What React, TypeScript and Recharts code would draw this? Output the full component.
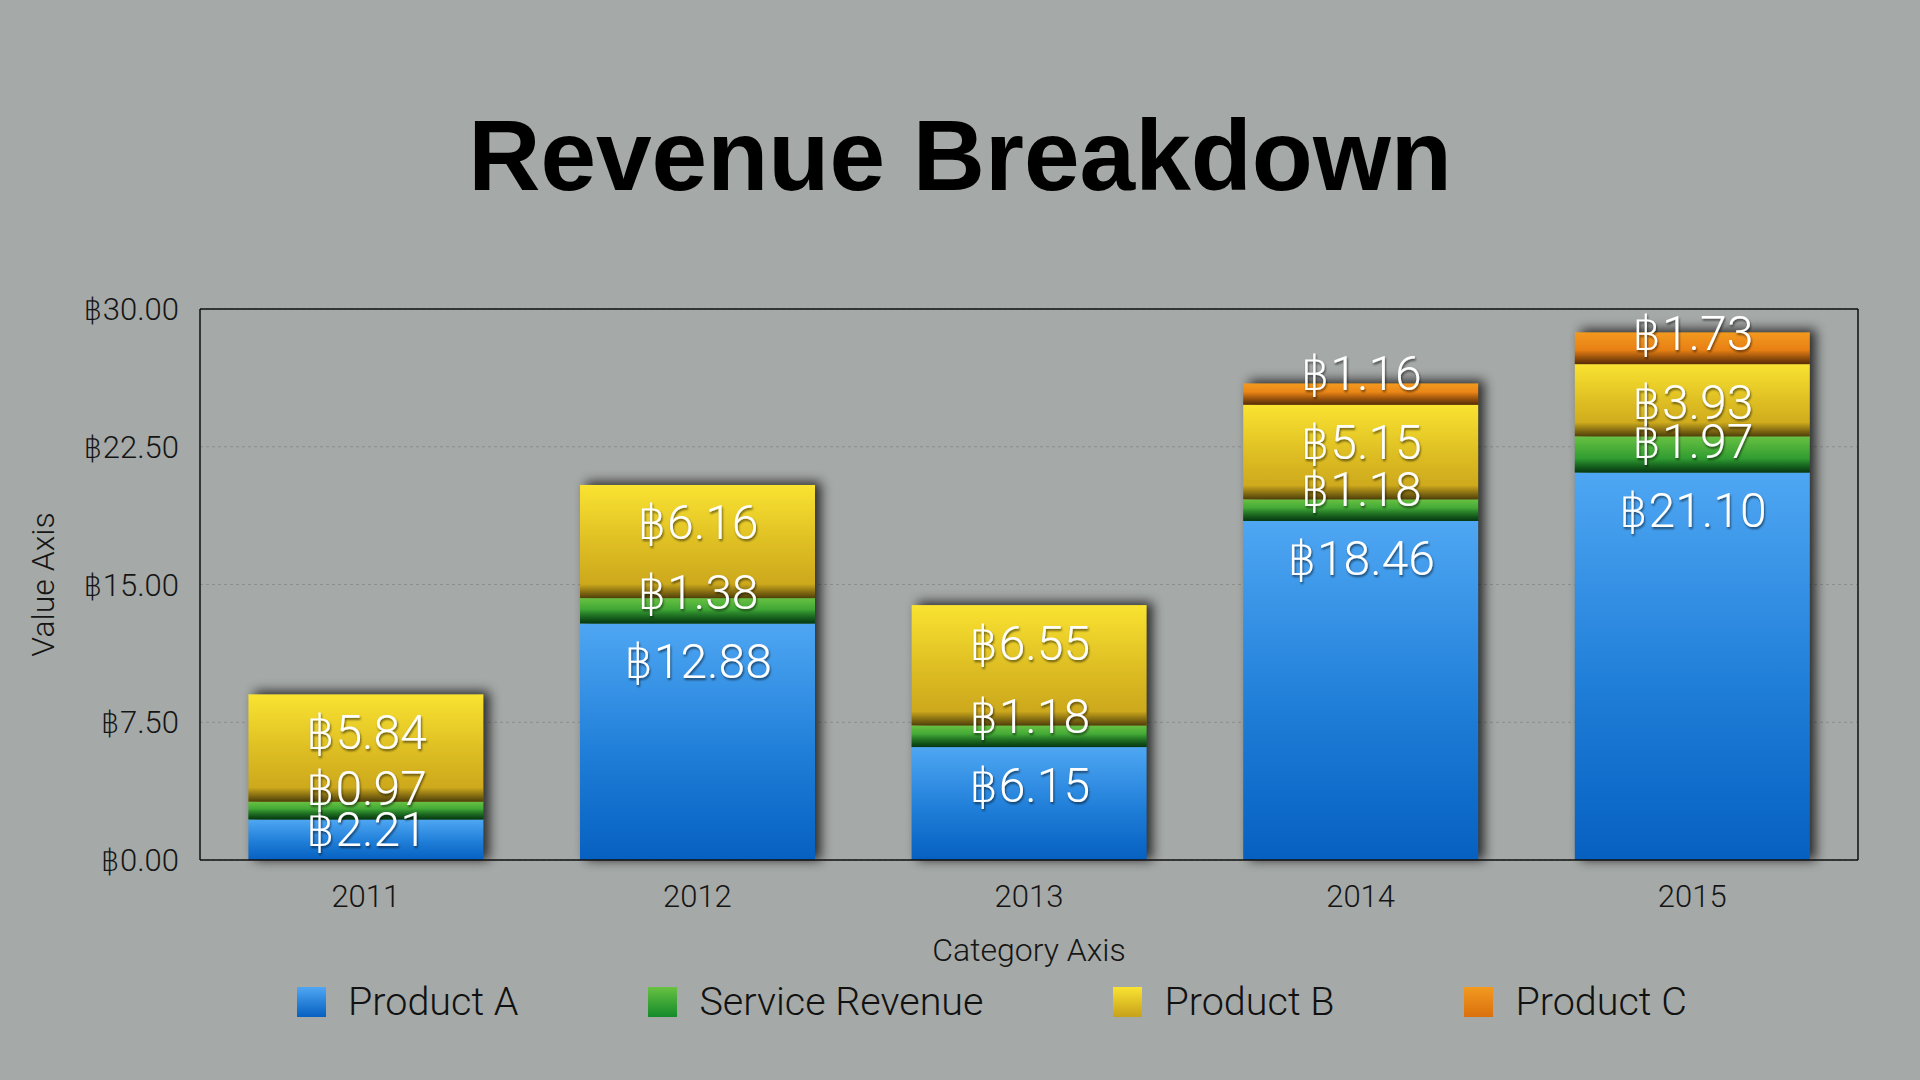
import { BarChart, Bar, XAxis, YAxis, CartesianGrid, LabelList } from "recharts";

// yearly revenue split, in baht
const years = ["2011", "2012", "2013", "2014", "2015"];
const productA = [2.21, 12.88, 6.15, 18.46, 21.1];
const serviceRevenue = [0.97, 1.38, 1.18, 1.18, 1.97];
const productB = [5.84, 6.16, 6.55, 5.15, 3.93];
const productC = [null, null, null, 1.16, 1.73];
const valueTicks = [0, 7.5, 15, 22.5, 30];

const data = years.map((year, i) => ({
    year,
    productA: productA[i],
    serviceRevenue: serviceRevenue[i],
    productB: productB[i],
    productC: productC[i],
}));

const series = [
    {key: "productA", name: "Product A", stops: ["#4fa7f3", "#1f7ed8", "#0660c0"]},
    {key: "serviceRevenue", name: "Service Revenue", stops: ["#68c242", "#36a032", "#138a2a"]},
    {key: "productB", name: "Product B", stops: ["#fae331", "#dcbc22", "#c7a11a"]},
    {key: "productC", name: "Product C", stops: ["#f39a1f", "#e88014", "#d9700e"]},
];
const seriesKeys = series.map((s) => s.key);

const lightFont = "Roboto, 'DejaVu Sans', sans-serif";
const axisText = {fontSize: 31, fill: "#151515", fontFamily: lightFont, fontWeight: 300};
const frame = {stroke: "#111", strokeWidth: 1.5};
const baht = (v: number) => `฿${v.toFixed(2)}`;

const Segment = (props: any) => {
    const {x, y, width, height, payload, seriesKey, first} = props;
    const v = payload?.[seriesKey];
    if (v == null || !height || height <= 0) return null;

    // the first series draws the soft shadow behind the whole stack
    let shadow = null;
    if (first) {
        const perUnit = height / v;
        const total = seriesKeys.reduce((s, k) => s + (payload[k] ?? 0), 0);
        const stackH = total * perUnit;
        shadow = (
            <rect x={x + 6} y={y + height - stackH - 3} width={width} height={stackH + 3}
                  fill="#000" opacity={0.75} filter="url(#stackShadow)"/>
        );
    }
    const band = Math.min(14, height * 0.6);
    return (
        <g>
            {shadow}
            <rect x={x} y={y} width={width} height={height} fill={`url(#grad-${seriesKey})`}/>
            {!first && (
                <rect x={x} y={y + height - band} width={width} height={band} fill="url(#bottomShade)"/>
            )}
        </g>
    );
};

const SegmentLabel = (props: any) => {
    const {x, y, width, height, value} = props;
    if (value == null || !height) return null;
    const cy = Math.min(y + 38, y + height - 31);
    return (
        <text x={x + width / 2} y={cy} textAnchor="middle" dominantBaseline="central"
              fill="#fff" fontSize={48} fontFamily={lightFont} fontWeight={300}
              filter="url(#labelShadow)">
            {baht(value)}
        </text>
    );
};

export default function App() {
    return (
        <div style={{position: "absolute", left: 0, top: 0, width: 1920, height: 1080, background: "#a5a9a7", overflow: "hidden"}}>
            <div style={{
                position: "absolute", left: 0, top: 105, width: 1920, textAlign: "center",
                fontFamily: "'Liberation Sans', Arial, sans-serif", fontWeight: 700,
                fontSize: 100, lineHeight: "100px", color: "#000",
            }}>
                Revenue Breakdown
            </div>

            <div style={{position: "absolute", left: 0, top: 0}}>
                <BarChart width={1920} height={1080} data={data}
                          margin={{top: 308, right: 61, bottom: 120, left: 0}}
                          barCategoryGap="14.6%">
                    <defs>
                        {series.map((s) => (
                            <linearGradient key={s.key} id={`grad-${s.key}`} x1="0" y1="0" x2="0" y2="1">
                                <stop offset="0%" stopColor={s.stops[0]}/>
                                <stop offset="55%" stopColor={s.stops[1]}/>
                                <stop offset="100%" stopColor={s.stops[2]}/>
                            </linearGradient>
                        ))}
                        <linearGradient id="bottomShade" x1="0" y1="0" x2="0" y2="1">
                            <stop offset="0%" stopColor="#000" stopOpacity={0}/>
                            <stop offset="100%" stopColor="#000" stopOpacity={0.6}/>
                        </linearGradient>
                        <filter id="stackShadow" x="-20%" y="-20%" width="140%" height="140%">
                            <feGaussianBlur stdDeviation="6"/>
                        </filter>
                        <filter id="labelShadow" x="-10%" y="-20%" width="120%" height="140%">
                            <feDropShadow dx="1" dy="2" stdDeviation="1.2" floodColor="#000" floodOpacity="0.55"/>
                        </filter>
                    </defs>

                    <CartesianGrid vertical={false} stroke="#8b8f8d" strokeDasharray="3 3"/>

                    <XAxis dataKey="year" height={100} tickLine={false}
                           axisLine={frame}
                           tick={axisText} tickMargin={19}
                           label={{
                               content: (p: any) => (
                                   <text x={p.viewBox.x + p.viewBox.width / 2} y={p.viewBox.y + 90}
                                         textAnchor="middle" dominantBaseline="central"
                                         fontSize={32} fill="#151515" fontFamily={lightFont} fontWeight={300}>
                                       Category Axis
                                   </text>
                               ),
                           }}/>
                    {/* top and right axes only close the plot frame */}
                    <XAxis xAxisId="top" orientation="top" dataKey="year" height={1}
                           tick={false} tickLine={false} axisLine={frame}/>
                    <YAxis width={200} domain={[0, 30]} ticks={valueTicks} tickFormatter={baht}
                           tickLine={false} axisLine={frame}
                           tick={axisText} tickMargin={15}
                           label={{
                               content: (p: any) => {
                                   const cx = p.viewBox.x + 43;
                                   const cy = p.viewBox.y + p.viewBox.height / 2;
                                   return (
                                       <text x={cx} y={cy} transform={`rotate(-90 ${cx} ${cy})`}
                                             textAnchor="middle" dominantBaseline="central"
                                             fontSize={32} fill="#151515" fontFamily={lightFont} fontWeight={300}>
                                           Value Axis
                                       </text>
                                   );
                               },
                           }}/>
                    <YAxis yAxisId="right" orientation="right" width={1} domain={[0, 30]}
                           tick={false} tickLine={false} axisLine={frame}/>

                    {series.map((s, i) => (
                        <Bar key={s.key} dataKey={s.key} name={s.name} stackId="rev"
                             isAnimationActive={false}
                             shape={(p: any) => <Segment {...p} seriesKey={s.key} first={i === 0}/>}>
                            <LabelList dataKey={s.key} content={(p: any) => <SegmentLabel {...p}/>}/>
                        </Bar>
                    ))}
                </BarChart>
            </div>

            {/* legend */}
            <div style={{position: "absolute", left: 297, top: 979, display: "flex", alignItems: "center", gap: 130}}>
                {series.map((s) => (
                    <div key={s.key} style={{display: "flex", alignItems: "center", gap: 22}}>
                        <div style={{width: 29, height: 30, background: `linear-gradient(${s.stops[0]}, ${s.stops[2]})`}}/>
                        <span style={{fontFamily: lightFont, fontWeight: 300, fontSize: 39.5, lineHeight: "46px", color: "#111"}}>
                            {s.name}
                        </span>
                    </div>
                ))}
            </div>
        </div>
    );
}
